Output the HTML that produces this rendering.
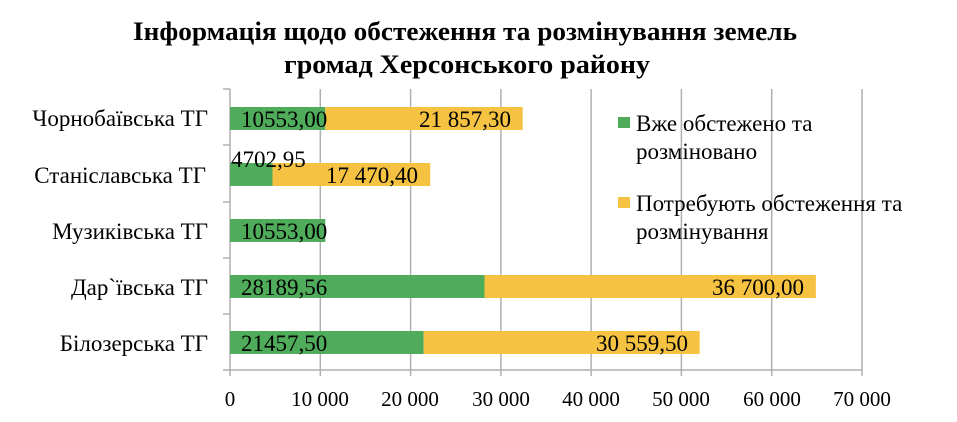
<!DOCTYPE html>
<html><head><meta charset="utf-8"><style>body{margin:0;background:#fff}svg{display:block}text{font-family:"Liberation Serif",serif;fill:#000}</style></head><body>
<svg width="957" height="422" viewBox="0 0 957 422">
<text x="133" y="40" font-size="26" font-weight="bold" textLength="664" lengthAdjust="spacingAndGlyphs">Інформація щодо обстеження та розмінування земель</text>
<text x="284" y="73" font-size="26" font-weight="bold" textLength="366" lengthAdjust="spacingAndGlyphs">громад  Херсонського району</text>
<g stroke="#b0b0b0" stroke-width="1.5">
<line x1="320.3" y1="89" x2="320.3" y2="376"/><line x1="410.6" y1="89" x2="410.6" y2="376"/><line x1="500.9" y1="89" x2="500.9" y2="376"/><line x1="591.1" y1="89" x2="591.1" y2="376"/><line x1="681.4" y1="89" x2="681.4" y2="376"/><line x1="771.7" y1="89" x2="771.7" y2="376"/><line x1="862" y1="89" x2="862" y2="376"/>
<line x1="230" y1="89" x2="230" y2="376"/><line x1="223" y1="370" x2="862" y2="370"/>
<line x1="223" y1="145" x2="230" y2="145"/><line x1="223" y1="202" x2="230" y2="202"/><line x1="223" y1="258" x2="230" y2="258"/><line x1="223" y1="314" x2="230" y2="314"/><line x1="223" y1="89" x2="230" y2="89"/>
</g>
<g fill="#4fac5b">
<rect x="230" y="107" width="95.3" height="23"/><rect x="230" y="163" width="42.5" height="23"/><rect x="230" y="219" width="95.3" height="23"/><rect x="230" y="275" width="254.5" height="23"/><rect x="230" y="331" width="193.7" height="23"/>
</g>
<g fill="#f5c242">
<rect x="325.3" y="107" width="197.4" height="23"/><rect x="272.5" y="163" width="157.7" height="23"/><rect x="484.5" y="275" width="331.4" height="23"/><rect x="423.7" y="331" width="276" height="23"/>
</g>
<g font-size="23">
<text x="241" y="127">10553,00</text><text x="511" y="127" text-anchor="end">21 857,30</text>
<text x="231" y="167">4702,95</text><text x="418" y="183" text-anchor="end">17 470,40</text>
<text x="241" y="239">10553,00</text>
<text x="241" y="295">28189,56</text><text x="804" y="295" text-anchor="end">36 700,00</text>
<text x="241" y="351">21457,50</text><text x="688" y="351" text-anchor="end">30 559,50</text>
</g>
<g font-size="23" text-anchor="end">
<text x="208" y="126">Чорнобаївська ТГ</text><text x="206" y="183">Станіславська ТГ</text><text x="208" y="239">Музиківська ТГ</text><text x="208" y="295">Дар`ївська ТГ</text><text x="208" y="351">Білозерська ТГ</text>
</g>
<g font-size="21" text-anchor="middle">
<text x="230" y="406">0</text><text x="320" y="406">10 000</text><text x="410" y="406">20 000</text><text x="501" y="406">30 000</text><text x="591" y="406">40 000</text><text x="681" y="406">50 000</text><text x="772" y="406">60 000</text><text x="862" y="406">70 000</text>
</g>
<rect x="618" y="117" width="12" height="11" fill="#4fac5b"/>
<rect x="618" y="197" width="12" height="11" fill="#f5c242"/>
<g font-size="23">
<text x="636" y="131">Вже обстежено та</text><text x="636" y="159">розміновано</text>
<text x="636" y="211">Потребують обстеження та</text><text x="636" y="239">розмінування</text>
</g>
</svg>
</body></html>
